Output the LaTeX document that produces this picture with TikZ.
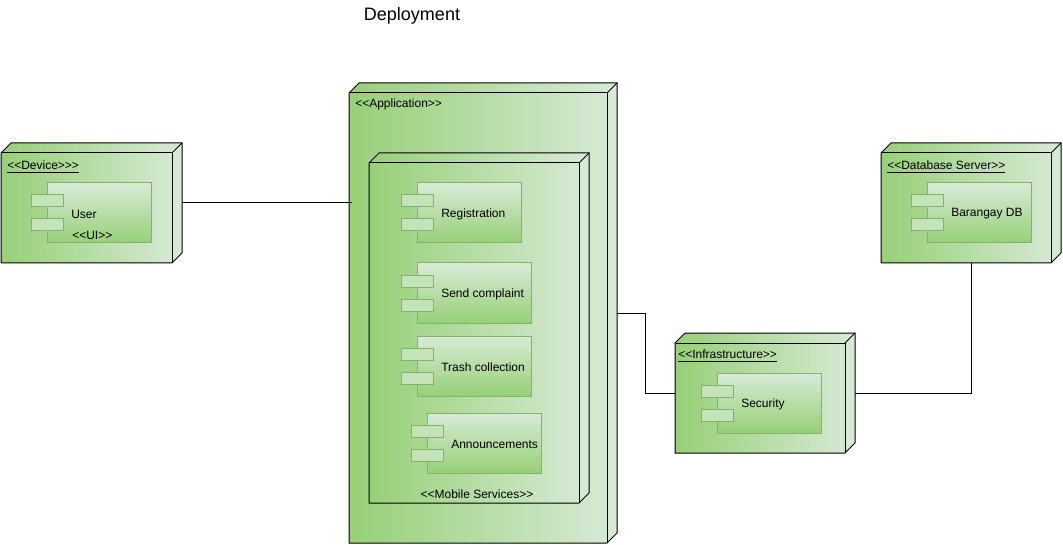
\documentclass[tikz,border=0pt]{standalone}
\usepackage{fontspec}
\setmainfont{Liberation Sans}[Ligatures=TeXOff]
\def\px{0.75pt}
\definecolor{nodeL}{HTML}{97D077}
\definecolor{nodeR}{HTML}{D8EAD7}
\definecolor{compTop}{HTML}{D8EAD7}
\definecolor{compBot}{HTML}{97D077}
\definecolor{compline}{HTML}{82B366}
\definecolor{portFill}{HTML}{C5E3B8}
\tikzset{
 bbox/.style={inner sep=0pt, outer sep=0pt, anchor=north west},
 shell/.style={left color=nodeL, right color=nodeR, draw=black, line width=0.75pt, line join=miter},
 comp/.style={draw=compline, line width=0.75pt, top color=compTop, bottom color=compBot, inner sep=0pt, outer sep=0pt, anchor=north west, minimum height=60*\px},
 port/.style={draw=compline, line width=0.75pt, fill=portFill, minimum width=32*\px, minimum height=12*\px, inner sep=0pt},
 lbl/.style={font=\fontsize{9}{11}\selectfont, inner sep=0pt, text=black},
 wire/.style={draw=black, line width=0.75pt}
}
\newcommand\shellbox[1]{%
 \path[shell] (#1.south west) -- ([shift={(0,10)}]#1.north west) -- ([shift={(10,0)}]#1.north west) -- (#1.north east) -- ([shift={(0,-10)}]#1.south east) -- ([shift={(-10,0)}]#1.south east) -- cycle;
 \draw[line width=0.75pt] ([shift={(0,10)}]#1.north west) -- ([shift={(-10,10)}]#1.north east) -- ([shift={(-10,0)}]#1.south east);
 \draw[line width=0.75pt] ([shift={(-10,10)}]#1.north east) -- (#1.north east);
}
\newcommand\compbox[5]{%
 \node[comp, minimum width=#4*\px] (#1) at (#2,#3) {};
 \node[port] (#1-p1) at ([shift={(0,-12)}]#1.west) {};
 \node[port] (#1-p2) at ([shift={(0,12)}]#1.west) {};
 \node[lbl, anchor=west] (#1-t) at ([shift={(24,1)}]#1.west) {#5};
}
\begin{document}
\begin{tikzpicture}[x=0.75pt,y=-0.75pt]
\useasboundingbox (0,0) rectangle (1063,545);
\node[font=\fontsize{13.5}{16}\selectfont, inner sep=0pt] (title) at (412,16) {Deployment};

% node boxes (full extent incl. depth)
\node[bbox, minimum width=181*\px, minimum height=120*\px] (dev) at (1,143) {};
\node[bbox, minimum width=268*\px, minimum height=460*\px] (app) at (349,83) {};
\node[bbox, minimum width=220*\px, minimum height=350*\px] (mob) at (369,153) {};
\node[bbox, minimum width=180*\px, minimum height=120*\px] (infra) at (675,333) {};
\node[bbox, minimum width=180*\px, minimum height=120*\px] (db) at (881,143) {};

\shellbox{dev}
\shellbox{app}
\shellbox{mob}
\shellbox{infra}
\shellbox{db}

% labels
\node[lbl, anchor=west] (devl) at (7,167) {\underline{<<Device>>>}};
\node[lbl, anchor=west] (appl) at (355,104) {<<Application>>};
\node[lbl] (mobl) at (477,494) {<<Mobile Services>>};
\node[lbl, anchor=west] (infral) at (678,356) {\underline{<<Infrastructure>>}};
\node[lbl, anchor=west] (dbl) at (887,167) {\underline{<<Database Server>>}};

% components
\compbox{user}{47}{183}{104}{User}
\node[lbl, anchor=west] (ui) at ([shift={(25,22)}]user.west) {<<UI>>};
\compbox{reg}{417}{183}{104}{Registration}
\compbox{send}{417}{263}{114}{Send complaint}
\compbox{trash}{417}{336}{114}{Trash collection}
\compbox{ann}{427}{413}{114}{Announcements}
\compbox{sec}{717}{373}{104}{Security}
\compbox{bdb}{927}{183}{104}{Barangay DB}

% connectors
\draw[wire] (dev.east) -- ([shift={(3,0)}]dev.east -| app.west);
\draw[wire] (app.east) -- ++(28,0) |- (infra.west);
\draw[wire] (infra.east) -| (db.south);
\end{tikzpicture}
\end{document}
